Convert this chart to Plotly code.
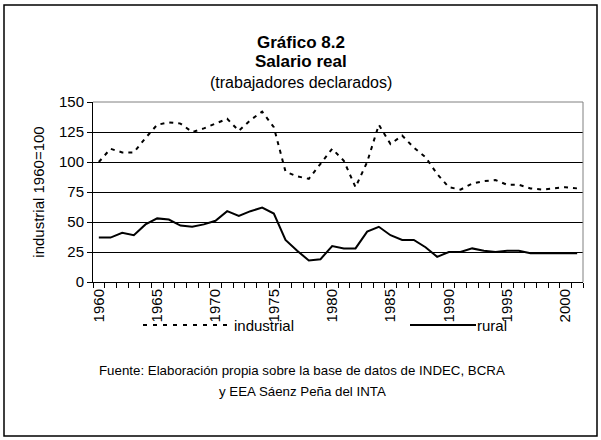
import plotly.graph_objects as go

years = [str(y) for y in range(1960, 2002)]
industrial = [100, 111, 108, 108, 120, 131, 133, 132, 125, 128,
              132, 136, 126, 135, 142, 129, 92, 88, 86, 99,
              111, 101, 79, 100, 131, 115, 122, 112, 104, 90,
              79, 77, 82, 84, 85, 81, 81, 78, 77, 78, 79, 78]
rural = [37, 37, 41, 39, 48, 53, 52, 47, 46, 48,
         51, 59, 55, 59, 62, 57, 35, 26, 18, 19,
         30, 28, 28, 42, 46, 39, 35, 35, 29, 21,
         25, 25, 28, 26, 25, 26, 26, 24, 24, 24, 24, 24]
tick_text = [y if int(y) % 5 == 0 else "" for y in years]

W, H = 601, 440
L, R, T, B = 93, 583, 102, 282

def px(x):
    return (x - L) / (R - L)

def py(y):
    return (B - y) / (B - T)

font = "Liberation Sans, Arial, sans-serif"

fig = go.Figure()
fig.add_trace(go.Scatter(x=years, y=industrial, name="industrial", mode="lines",
                         line=dict(color="black", width=2, dash="4px,5px")))
fig.add_trace(go.Scatter(x=years, y=rural, name="rural", mode="lines",
                         line=dict(color="black", width=2)))

fig.update_layout(
    width=W, height=H, margin=dict(l=L, r=W - R, t=T, b=H - B),
    plot_bgcolor="white", paper_bgcolor="white", showlegend=False,
    font=dict(family=font, size=15, color="black"))

fig.update_xaxes(type="category", tickvals=years, ticktext=tick_text,
                 tickangle=-90, tickson="boundaries", ticks="outside",
                 ticklen=5, tickcolor="black", showline=True, linecolor="black",
                 linewidth=1, showgrid=False, tickfont=dict(size=15),
                 range=[-0.5, len(years) - 0.5])
fig.update_yaxes(range=[0, 150], tickvals=[0, 25, 50, 75, 100, 125, 150],
                 ticks="outside", ticklen=5, tickcolor="black", showline=True,
                 linecolor="black", linewidth=1, gridcolor="black", gridwidth=1,
                 zeroline=False, tickfont=dict(size=15),
                 title=dict(text="industrial 1960=100", font=dict(size=15), standoff=10))

# plot-area frame (top and right in grey) and chart border
fig.add_shape(type="line", xref="paper", yref="paper", x0=0, x1=1, y0=1, y1=1,
              line=dict(color="#808080", width=1))
fig.add_shape(type="line", xref="paper", yref="paper", x0=1, x1=1, y0=0, y1=1,
              line=dict(color="#808080", width=1))
fig.add_shape(type="rect", xref="paper", yref="paper",
              x0=px(4), x1=px(597), y0=py(436), y1=py(5),
              line=dict(color="black", width=1.5))

# titles
titles = [("<b>Gráfico 8.2</b>", 42, 17), ("<b>Salario real</b>", 62, 17),
          ("(trabajadores declarados)", 82, 16)]
for txt, yy, sz in titles:
    fig.add_annotation(text=txt, xref="paper", yref="paper", x=px(301), y=py(yy),
                       showarrow=False, xanchor="center", yanchor="middle",
                       font=dict(size=sz))

# legend
fig.add_shape(type="line", xref="paper", yref="paper", x0=px(143), x1=px(232),
              y0=py(325), y1=py(325), line=dict(color="black", width=2, dash="4px,6px"))
fig.add_annotation(text="industrial", xref="paper", yref="paper", x=px(232), y=py(325),
                   showarrow=False, xanchor="left", yanchor="middle", font=dict(size=15))
fig.add_shape(type="line", xref="paper", yref="paper", x0=px(410), x1=px(476),
              y0=py(325), y1=py(325), line=dict(color="black", width=2))
fig.add_annotation(text="rural", xref="paper", yref="paper", x=px(475), y=py(325),
                   showarrow=False, xanchor="left", yanchor="middle", font=dict(size=15))

# source note
fig.add_annotation(text="Fuente: Elaboración propia sobre la base de datos de INDEC, BCRA",
                   xref="paper", yref="paper", x=px(302), y=py(370), showarrow=False,
                   xanchor="center", yanchor="middle", font=dict(size=13.3))
fig.add_annotation(text="y EEA Sáenz Peña del INTA",
                   xref="paper", yref="paper", x=px(302), y=py(391), showarrow=False,
                   xanchor="center", yanchor="middle", font=dict(size=13.3))

fig.write_html("out.html", post_script="document.body.style.margin='0';",
               config={"displayModeBar": False})
